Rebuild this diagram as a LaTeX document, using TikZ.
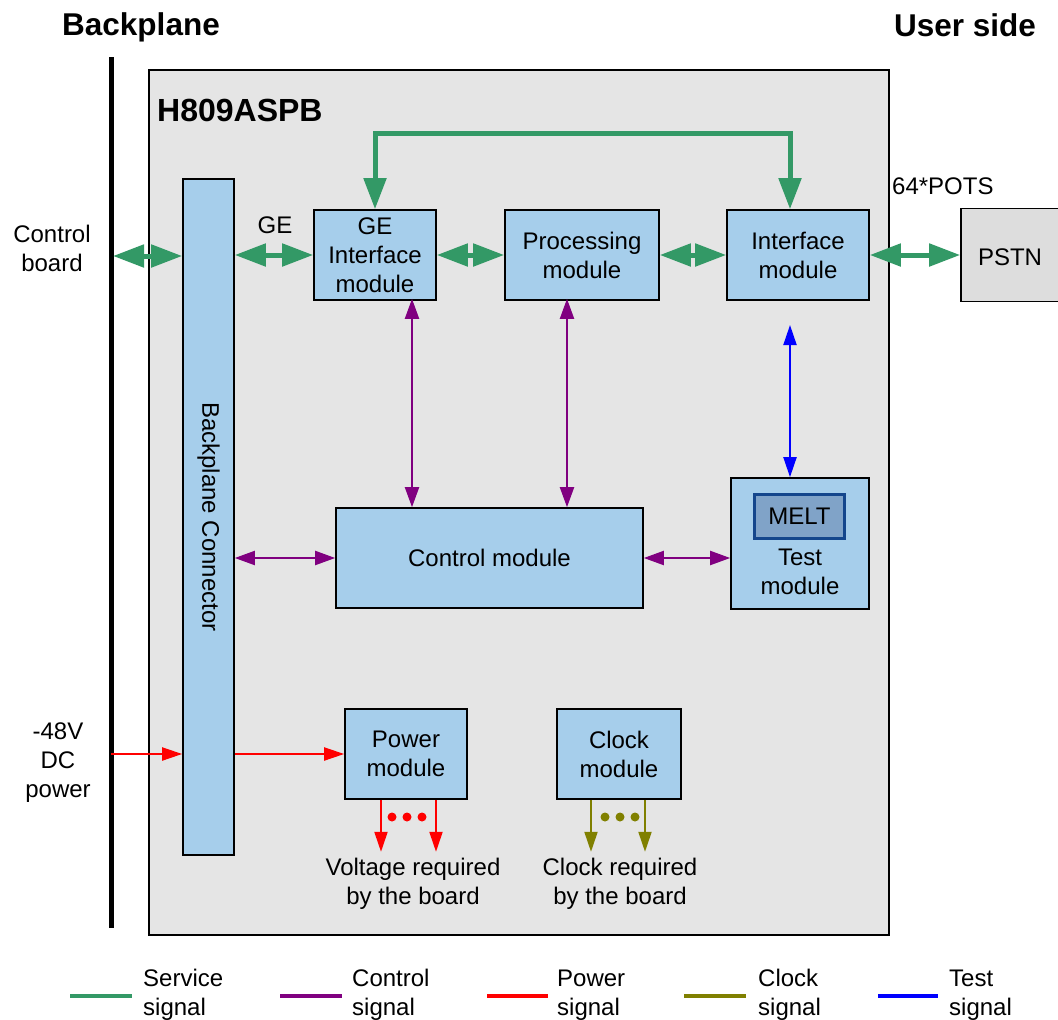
\documentclass[tikz,border=0pt]{standalone}
\usepackage{fontspec}
\setmainfont{Liberation Sans}
\usetikzlibrary{arrows.meta}
\definecolor{svc}{RGB}{51,153,102}
\definecolor{ctl}{RGB}{128,0,128}
\definecolor{pwr}{RGB}{255,0,0}
\definecolor{clk}{RGB}{128,128,0}
\definecolor{tst}{RGB}{0,0,255}
\definecolor{modfill}{RGB}{166,206,235}
\definecolor{boardfill}{RGB}{229,229,229}
\definecolor{pstnfill}{RGB}{221,221,221}
\definecolor{meltfill}{RGB}{128,163,200}
\definecolor{meltdraw}{RGB}{20,70,140}
\begin{document}
\begin{tikzpicture}[x=1pt,y=-1pt,font=\fontsize{24}{29}\selectfont,
  mod/.style={draw=black,line width=1.6pt,fill=modfill,align=center,inner sep=0pt},
  svcarrow/.style={draw=svc,line width=5pt,{Triangle[length=31pt,width=22pt]}-{Triangle[length=31pt,width=22pt]}},
  ctlarrow/.style={draw=ctl,line width=2pt,{Triangle[length=20pt,width=14pt]}-{Triangle[length=20pt,width=14pt]}},
  tstarrow/.style={draw=tst,line width=2pt,{Triangle[length=20pt,width=13pt]}-{Triangle[length=20pt,width=13pt]}},
  pwrarrow/.style={draw=pwr,line width=2pt,-{Triangle[length=20pt,width=13pt]}},
  clkarrow/.style={draw=clk,line width=2pt,-{Triangle[length=20pt,width=13pt]}},
  legline/.style={line width=4.5pt},
  legtext/.style={anchor=west,align=left,inner sep=0pt}]
\useasboundingbox (0,0) rectangle (1058,1020);

% titles
\node[font=\fontsize{31.5}{34}\selectfont\bfseries] (tbp) at (141,27) {Backplane};
\node[font=\fontsize{31.5}{34}\selectfont\bfseries] (tus) at (965,25) {User side};

% board
\node[draw=black,line width=1.5pt,fill=boardfill,minimum width=740,minimum height=865,inner sep=0pt] (board) at (519,502.5) {};
\node[anchor=west,font=\fontsize{32}{34}\selectfont\bfseries,inner sep=0pt] (bname) at (157,110) {H809ASPB};

% backplane line
\draw[line width=5pt] (111,57) -- (111,928);
\coordinate (cbp) at (113,256);
\coordinate (dcp) at (111,754);

% modules
\node[mod,minimum width=51,minimum height=676] (bpc) at (208.5,517) {};
\node[rotate=-90] (bpct) at (bpc.center) {Backplane Connector};
\node[mod,minimum width=122,minimum height=90] (ge) at (375,255) {GE\\Interface\\module};
\node[mod,minimum width=154,minimum height=90] (proc) at (582,255) {Processing\\module};
\node[mod,minimum width=142,minimum height=90] (intf) at (798,255) {Interface\\module};
\node[draw=black,line width=1.6pt,fill=pstnfill,minimum width=100,minimum height=93,inner sep=0pt] (pstn) at (1011,255) {};
\node (pstnt) at (1010,257) {PSTN};
\node[mod,minimum width=307,minimum height=100] (ctrl) at (489.5,558) {Control module};
\node[mod,minimum width=138,minimum height=131] (test) at (800,543.5) {};
\node[draw=meltdraw,line width=3pt,fill=meltfill,minimum width=90,minimum height=44,inner sep=0pt] (melt) at (799.5,516.5) {MELT};
\node[align=center] (testt) at (800,572) {Test\\module};
\node[mod,minimum width=122,minimum height=90] (pm) at (406,754) {Power\\module};
\node[mod,minimum width=124,minimum height=90] (cm) at (619,754) {Clock\\module};

% labels
\node[align=center] (lcb) at (52,248) {Control\\board};
\node[align=center] (ldc) at (58,763) {-48V\\DC\\power};
\node (lge) at (275,225) {GE};
\node[anchor=west,inner sep=0pt] (lpots) at (892,186) {64*POTS};
\node[align=center] (lvr) at (413,884) {Voltage required\\by the board};
\node[align=center] (lcr) at (620,884) {Clock required\\by the board};

% service arrows
\draw[svcarrow] (cbp) -- (cbp -| bpc.west);
\draw[svcarrow] (bpc.east |- ge.west) -- (ge.west);
\draw[svcarrow] (ge.east) -- (proc.west);
\draw[svcarrow] (proc.east) -- (intf.west);
\draw[svcarrow] (intf.east) -- (pstn.west);
\coordinate (intfin) at ([xshift=-8pt]intf.north);
\draw[svcarrow] (ge.north) -- (ge.north |- 0,133) -| (intfin);

% control arrows
\draw[ctlarrow] ([xshift=37pt,yshift=2pt]ge.south) -- ([xshift=37pt]ge.south |- ctrl.north);
\draw[ctlarrow] ([xshift=-15pt,yshift=2pt]proc.south) -- ([xshift=-15pt]proc.south |- ctrl.north);
\draw[ctlarrow] (bpc.east |- ctrl.west) -- (ctrl.west);
\draw[ctlarrow] (ctrl.east) -- (ctrl.east -| test.west);

% test arrow
\coordinate (tsttop) at (790,325);
\draw[tstarrow] (tsttop) -- (tsttop |- test.north);

% power arrows
\draw[pwrarrow] (dcp) -- (dcp -| bpc.west);
\draw[pwrarrow] (bpc.east |- pm.west) -- (pm.west);
\draw[pwrarrow] ([xshift=-25pt]pm.south) -- ++(0,52);
\draw[pwrarrow] ([xshift=30pt]pm.south) -- ++(0,52);
\foreach \x in {392,407,422} \fill[pwr] (\x,817) circle (4.5);
% clock arrows
\draw[clkarrow] ([xshift=-28pt]cm.south) -- ++(0,52);
\draw[clkarrow] ([xshift=26pt]cm.south) -- ++(0,52);
\foreach \x in {605,620,635} \fill[clk] (\x,817) circle (4.5);

% legend
\draw[legline,svc] (70,996) -- (132,996);
\node[legtext] (l1) at (143,995) {Service\\signal};
\draw[legline,ctl] (280,996) -- (342,996);
\node[legtext] (l2) at (352,995) {Control\\signal};
\draw[legline,pwr] (487,996) -- (548,996);
\node[legtext] (l3) at (557,995) {Power\\signal};
\draw[legline,clk] (684,996) -- (746,996);
\node[legtext] (l4) at (758,995) {Clock\\signal};
\draw[legline,tst] (878,996) -- (938,996);
\node[legtext] (l5) at (949,995) {Test\\signal};
\end{tikzpicture}
\end{document}
